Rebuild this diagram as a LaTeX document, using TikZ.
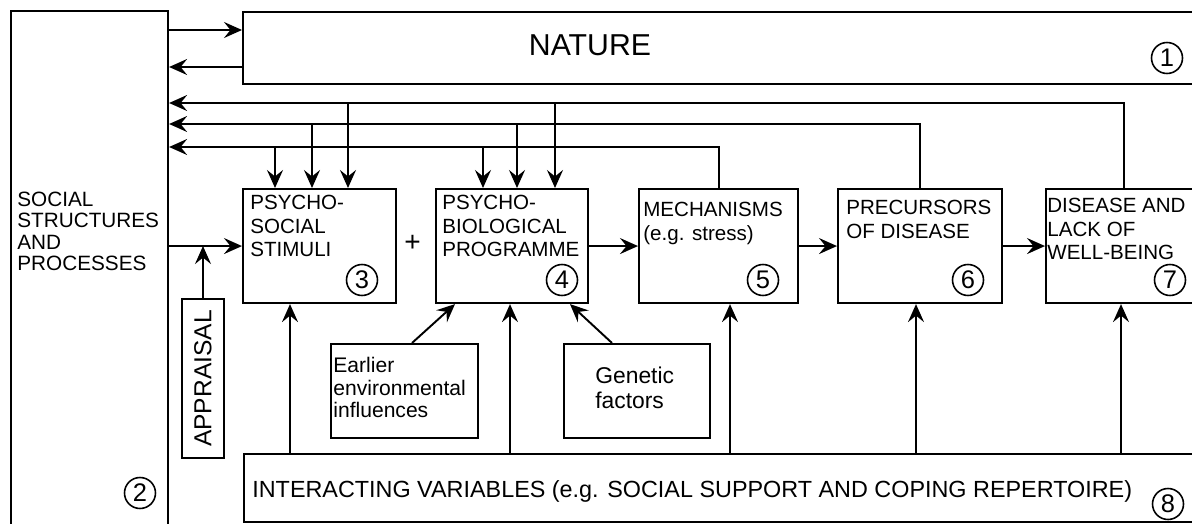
\documentclass[tikz,border=0pt]{standalone}
\usepackage{fontspec}
\setmainfont{Liberation Sans}
\usetikzlibrary{arrows.meta}

\begin{document}
\begin{tikzpicture}[
		box/.style={draw, line width=1.2pt, inner sep=0pt},
		arr/.style={-{Stealth[length=3.6mm, width=3.2mm, inset=1.3mm]}, line width=1.1pt},
		txt/.style={align=left, inner sep=0pt, anchor=north west, font=\fontsize{11.7}{13.4}\selectfont},
		num/.style={draw, circle, line width=0.9pt, minimum size=6.2mm, inner sep=0pt, font=\fontsize{14.5}{14.5}\selectfont}
	]
		\clip (0,0) rectangle (23.84,-10.48);

		\node[box, anchor=north west, minimum width=3.14cm, minimum height=10.4cm] (social) at (0.2,-0.2) {};
		\node[txt, font=\fontsize{11.8}{12}\selectfont] (socialtxt) at (0.34,-3.84) {SOCIAL\\STRUCTURES\\AND\\PROCESSES};
		\node[num] (n2) at (2.8,-9.86) {2};

		\node[box, anchor=north west, minimum width=19.16cm, minimum height=1.44cm] (nature) at (4.84,-0.22) {};
		\node[font=\fontsize{17.2}{17.2}\selectfont] (naturetxt) at (11.8,-0.9) {NATURE};
		\node[num] (n1) at (23.34,-1.16) {1};
		\coordinate (toN) at (0,-0.6);
		\coordinate (fromN) at (0,-1.34);
		\draw[arr] (social.east |- toN) -- (nature.west |- toN);
		\draw[arr] (nature.west |- fromN) -- (social.east |- fromN);

		\node[box, anchor=north west, minimum width=3.06cm, minimum height=2.28cm] (stim) at (4.84,-3.76) {};
		\node[txt] (stimtxt) at (5.0,-3.9) {PSYCHO-\\SOCIAL\\STIMULI};
		\node[num] (n3) at (7.24,-5.6) {3};

		\node[font=\fontsize{16}{16}\selectfont] (plus) at (8.25,-4.86) {+};

		\node[box, anchor=north west, minimum width=3.04cm, minimum height=2.28cm] (bio) at (8.7,-3.76) {};
		\node[txt] (biotxt) at (8.84,-3.9) {PSYCHO-\\BIOLOGICAL\\PROGRAMME};
		\node[num] (n4) at (11.24,-5.6) {4};

		\node[box, anchor=north west, minimum width=3.18cm, minimum height=2.28cm] (mech) at (12.76,-3.76) {};
		\node[txt] (mechtxt) at (12.86,-4.04) {MECHANISMS\\(e.g. stress)};
		\node[num] (n5) at (15.26,-5.6) {5};

		\node[box, anchor=north west, minimum width=3.28cm, minimum height=2.28cm] (prec) at (16.74,-3.76) {};
		\node[txt] (prectxt) at (16.92,-4.0) {PRECURSORS\\OF DISEASE};
		\node[num] (n6) at (19.36,-5.6) {6};

		\node[box, anchor=north west, minimum width=3.1cm, minimum height=2.28cm] (dis) at (20.9,-3.76) {};
		\node[txt] (distxt) at (20.94,-3.96) {DISEASE AND\\LACK OF\\WELL-BEING};
		\node[num] (n7) at (23.4,-5.6) {7};

		\draw[arr] (social.east |- stim.west) -- (stim.west);
		\draw[arr] (bio) -- (mech);
		\draw[arr] (mech) -- (prec);
		\draw[arr] (prec) -- (dis);

		\coordinate (fbA) at (0,-2.06);
		\coordinate (fbB) at (0,-2.48);
		\coordinate (fbC) at (0,-2.94);
		\draw[arr] (dis.north) |- (social.east |- fbA);
		\draw[arr] (prec.north) |- (social.east |- fbB);
		\draw[arr] (mech.north) |- (social.east |- fbC);
		\draw[arr] (5.5,0 |- fbC) -- (5.5,0 |- stim.north);
		\draw[arr] (6.24,0 |- fbB) -- (6.24,0 |- stim.north);
		\draw[arr] (6.96,0 |- fbA) -- (6.96,0 |- stim.north);
		\draw[arr] (9.66,0 |- fbC) -- (9.66,0 |- bio.north);
		\draw[arr] (10.34,0 |- fbB) -- (10.34,0 |- bio.north);
		\draw[arr] (11.1,0 |- fbA) -- (11.1,0 |- bio.north);

		\node[box, minimum width=0.84cm, minimum height=3.18cm] (appr) at (4.06,-7.57) {};
		\node[rotate=90, font=\fontsize{14}{14}\selectfont] (apprtxt) at (appr) {APPRAISAL};
		\draw[arr] (appr.north) -- (appr.north |- stim.west);

		\node[box, anchor=north west, minimum width=2.94cm, minimum height=1.88cm] (early) at (6.6,-6.86) {};
		\node[txt, font=\fontsize{12}{12.8}\selectfont] (earlytxt) at (6.66,-7.14) {Earlier\\environmental\\influences};
		\draw[arr] (8.24,0 |- early.north) -- (9.1,0 |- bio.south);

		\node[box, anchor=north west, minimum width=2.92cm, minimum height=1.88cm] (gen) at (11.26,-6.86) {};
		\node[txt, font=\fontsize{13}{14.2}\selectfont] (gentxt) at (11.9,-7.34) {Genetic\\factors};
		\draw[arr] (12.24,0 |- gen.north) -- (11.4,0 |- bio.south);

		\node[box, anchor=north west, minimum width=19.14cm, minimum height=1.36cm] (inter) at (4.86,-9.06) {};
		\node[txt, font=\fontsize{13.3}{13.3}\selectfont] (intertxt) at (5.04,-9.6) {INTERACTING VARIABLES (e.g. SOCIAL SUPPORT AND COPING REPERTOIRE)};
		\node[num] (n8) at (23.36,-10.08) {8};
		\draw[arr] (5.8,0 |- inter.north) -- (5.8,0 |- stim.south);
		\draw[arr] (10.2,0 |- inter.north) -- (10.2,0 |- bio.south);
		\draw[arr] (14.6,0 |- inter.north) -- (14.6,0 |- mech.south);
		\draw[arr] (18.32,0 |- inter.north) -- (18.32,0 |- prec.south);
		\draw[arr] (22.42,0 |- inter.north) -- (22.42,0 |- dis.south);
	\end{tikzpicture}
\end{document}
